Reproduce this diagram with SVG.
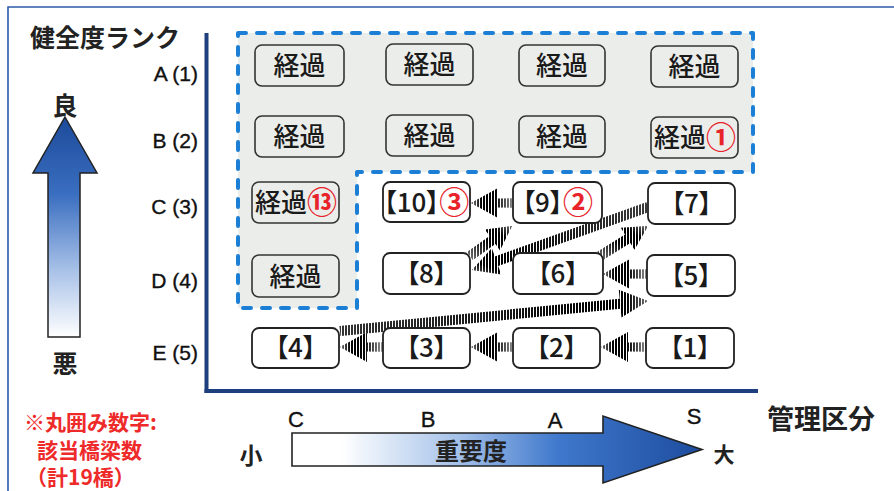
<svg xmlns="http://www.w3.org/2000/svg" width="894" height="491" viewBox="0 0 894 491">
<defs>
<style>
.jp{font-family:"Noto Sans CJK JP","Noto Sans",sans-serif;}
.lat{font-family:"Liberation Sans",Arial,sans-serif;fill:#111;stroke:#111;stroke-width:0.35;}
.box{fill:#ffffff;stroke:#222;stroke-width:1.8;}
.gbox{fill:#ebedea;stroke:#333;stroke-width:1.6;}
.bt{font-family:"Noto Sans CJK JP","Noto Sans",sans-serif;font-size:26px;font-weight:500;fill:#1a1a1a;text-anchor:middle;font-feature-settings:"palt" 1;}
.red{fill:#e8232a;font-weight:bold;font-size:30px;}
.hatch{fill:url(#stripes);}
</style>
<pattern id="stripes" patternUnits="userSpaceOnUse" x="0" y="0" width="3" height="6">
<rect x="0" y="0" width="2" height="6" fill="#000"/>
</pattern>
<linearGradient id="fadeL" x1="1" y1="0" x2="0" y2="0">
<stop offset="0" stop-color="#fff" stop-opacity="0.6"/>
<stop offset="0.45" stop-color="#fff" stop-opacity="0"/>
<stop offset="0.75" stop-color="#fff" stop-opacity="0"/>
<stop offset="1" stop-color="#fff" stop-opacity="0.5"/>
</linearGradient>
<linearGradient id="fadeR" x1="0" y1="0" x2="1" y2="0">
<stop offset="0" stop-color="#fff" stop-opacity="0.2"/>
<stop offset="0.88" stop-color="#fff" stop-opacity="0"/>
<stop offset="0.93" stop-color="#fff" stop-opacity="0"/>
<stop offset="1" stop-color="#fff" stop-opacity="0.45"/>
</linearGradient>
<linearGradient id="fadeDL" x1="1" y1="0" x2="0" y2="1">
<stop offset="0" stop-color="#fff" stop-opacity="0.25"/>
<stop offset="0.82" stop-color="#fff" stop-opacity="0"/>
<stop offset="0.9" stop-color="#fff" stop-opacity="0"/>
<stop offset="1" stop-color="#fff" stop-opacity="0.45"/>
</linearGradient>
<linearGradient id="fadeUR" x1="0" y1="1" x2="1" y2="0">
<stop offset="0" stop-color="#fff" stop-opacity="0.5"/>
<stop offset="0.5" stop-color="#fff" stop-opacity="0"/>
<stop offset="0.75" stop-color="#fff" stop-opacity="0"/>
<stop offset="1" stop-color="#fff" stop-opacity="0.45"/>
</linearGradient>
<linearGradient id="upGrad" x1="0" y1="117" x2="0" y2="337" gradientUnits="userSpaceOnUse">
<stop offset="0" stop-color="#1d4a9a"/>
<stop offset="0.35" stop-color="#3a6ec0"/>
<stop offset="0.7" stop-color="#a9c2e8"/>
<stop offset="1" stop-color="#ffffff"/>
</linearGradient>
<linearGradient id="rightGrad" x1="292" y1="0" x2="702" y2="0" gradientUnits="userSpaceOnUse">
<stop offset="0" stop-color="#ffffff"/>
<stop offset="0.12" stop-color="#ffffff"/>
<stop offset="0.4" stop-color="#a7c3ea"/>
<stop offset="0.65" stop-color="#3f78cc"/>
<stop offset="1" stop-color="#1d4c9e"/>
</linearGradient>
</defs>

<rect x="0" y="0" width="894" height="491" fill="#ffffff"/>

<!-- frame -->
<path d="M8,491 V7 H894" fill="none" stroke="#2d5aa8" stroke-width="1.6"/>

<!-- axes -->
<g id="axes">
<line x1="206.5" y1="33" x2="206.5" y2="393" stroke="#1e3f7e" stroke-width="4"/>
<line x1="204.5" y1="391" x2="758" y2="391" stroke="#1e3f7e" stroke-width="4"/>
</g>

<!-- dashed region -->
<g id="region">
<path d="M238,33 H753 V172 H357 V308 H238 Z" fill="#ebedea" stroke="#1c7fd6" stroke-width="4" stroke-dasharray="8 11" stroke-linecap="round" stroke-linejoin="round"/>
</g>

<!-- title / axis labels -->
<g id="labels">
<text x="30" y="47" class="jp" font-size="25" font-weight="bold" fill="#222">健全度ランク</text>
<text x="198" y="81" class="lat" font-size="21" text-anchor="end">A (1)</text>
<text x="198" y="148" class="lat" font-size="21" text-anchor="end">B (2)</text>
<text x="198" y="214" class="lat" font-size="21" text-anchor="end">C (3)</text>
<text x="198" y="288" class="lat" font-size="21" text-anchor="end">D (4)</text>
<text x="198" y="360" class="lat" font-size="21" text-anchor="end">E (5)</text>
</g>

<!-- left health arrow -->
<g id="health-arrow">
<path d="M65,117 L97,173 H80 V337 H48 V173 H33 Z" fill="url(#upGrad)" stroke="#222" stroke-width="1.5" stroke-linejoin="miter"/>
<text x="65" y="115" class="jp" font-size="25" font-weight="bold" fill="#222" text-anchor="middle">良</text>
<text x="65" y="373" class="jp" font-size="25" font-weight="bold" fill="#222" text-anchor="middle">悪</text>
</g>

<!-- note -->
<g id="note" class="jp" font-weight="bold" fill="#ee2a2a">
<text x="24" y="430" font-size="21">※丸囲み数字:</text>
<text x="37" y="458" font-size="21">該当橋梁数</text>
<text x="26" y="485" font-size="21">（計19橋）</text>
</g>

<!-- importance arrow -->
<g id="importance-arrow">
<path d="M292,433 H603 V416 L702,449.5 L603,483 V466 H292 Z" fill="url(#rightGrad)" stroke="#222" stroke-width="1.6"/>
<text x="471" y="460" class="jp" font-size="24" font-weight="bold" fill="#222" text-anchor="middle">重要度</text>
<text x="296" y="427" class="lat" font-size="22" text-anchor="middle">C</text>
<text x="428" y="427" class="lat" font-size="22" text-anchor="middle">B</text>
<text x="555" y="428" class="lat" font-size="22" text-anchor="middle">A</text>
<text x="694" y="424" class="lat" font-size="22" text-anchor="middle">S</text>
<text x="251" y="464" class="jp" font-size="23" font-weight="bold" fill="#222" text-anchor="middle">小</text>
<text x="724" y="462" class="jp" font-size="21" font-weight="bold" fill="#222" text-anchor="middle">大</text>
<text x="767" y="429" class="jp" font-size="27" font-weight="bold" fill="#222">管理区分</text>
</g>

<!-- connectors -->
<g id="connectors">
<g class="hatch">
<path d="M514,198.5 H498 V188 L471,203 L498,218 V207.5 H514 Z"/>
<path d="M383,342.5 H367 V332 L340,347 L367,362 V351.5 H383 Z"/>
<path d="M514,342.5 H498 V332 L471,347 L498,362 V351.5 H514 Z"/>
<path d="M648,342.5 H628 V332 L601,347 L628,362 V351.5 H648 Z"/>
<path d="M648,269.5 H630 V259 L603,274 L630,289 V278.5 H648 Z"/>
<polygon points="602.6,260.2 630.3,243.0 634.5,249.7 648,226 620.8,227.7 625.0,234.5 597.4,251.8"/>
<polygon points="472.9,260.1 495.4,244.0 500.0,250.5 512,226 484.9,229.4 489.6,235.9 467.1,251.9"/>
<polygon points="646.3,202.3 494.8,256.5 491.8,248.1 472,270 501.2,274.4 498.2,266.0 649.7,211.7"/>
<polygon points="340.5,336.0 620.6,308.7 621.5,317.6 648,301 618.8,289.8 619.7,298.7 339.5,326.0"/>
</g>
<path d="M514,198.5 H498 V188 L471,203 L498,218 V207.5 H514 Z" fill="url(#fadeL)"/>
<path d="M383,342.5 H367 V332 L340,347 L367,362 V351.5 H383 Z" fill="url(#fadeL)"/>
<path d="M514,342.5 H498 V332 L471,347 L498,362 V351.5 H514 Z" fill="url(#fadeL)"/>
<path d="M648,342.5 H628 V332 L601,347 L628,362 V351.5 H648 Z" fill="url(#fadeL)"/>
<path d="M648,269.5 H630 V259 L603,274 L630,289 V278.5 H648 Z" fill="url(#fadeL)"/>
<polygon points="602.6,260.2 630.3,243.0 634.5,249.7 648,226 620.8,227.7 625.0,234.5 597.4,251.8" fill="url(#fadeUR)"/>
<polygon points="472.9,260.1 495.4,244.0 500.0,250.5 512,226 484.9,229.4 489.6,235.9 467.1,251.9" fill="url(#fadeUR)"/>
<polygon points="646.3,202.3 494.8,256.5 491.8,248.1 472,270 501.2,274.4 498.2,266.0 649.7,211.7" fill="url(#fadeDL)"/>
<polygon points="340.5,336.0 620.6,308.7 621.5,317.6 648,301 618.8,289.8 619.7,298.7 339.5,326.0" fill="url(#fadeR)"/>
</g>

<!-- nodes: row A -->
<g id="a1"><rect class="gbox" x="255" y="45" width="89" height="41" rx="7"/><text class="bt" x="299.5" y="75">経過</text></g>
<g id="a2"><rect class="gbox" x="386" y="44" width="87" height="41" rx="7"/><text class="bt" x="429.5" y="74">経過</text></g>
<g id="a3"><rect class="gbox" x="519" y="45" width="86" height="41" rx="7"/><text class="bt" x="562" y="75">経過</text></g>
<g id="a4"><rect class="gbox" x="651" y="46" width="87" height="41" rx="7"/><text class="bt" x="694.5" y="76">経過</text></g>
<!-- row B -->
<g id="b1"><rect class="gbox" x="255" y="116" width="89" height="41" rx="7"/><text class="bt" x="299.5" y="146">経過</text></g>
<g id="b2"><rect class="gbox" x="386" y="115" width="87" height="41" rx="7"/><text class="bt" x="429.5" y="145">経過</text></g>
<g id="b3"><rect class="gbox" x="519" y="116" width="86" height="41" rx="7"/><text class="bt" x="562" y="146">経過</text></g>
<g id="b4"><rect class="gbox" x="651" y="117" width="87" height="41" rx="7"/><text class="bt" x="695" y="147">経過<tspan class="red" dy="1">①</tspan></text></g>
<!-- row C -->
<g id="c1"><rect class="gbox" x="252" y="182" width="87" height="41" rx="7"/><text class="bt" x="296" y="212">経過<tspan class="red" dy="1">⑬</tspan></text></g>
<g id="n10"><rect class="box" x="383" y="182" width="87" height="40" rx="7"/><text class="bt" x="426.5" y="212">【10】<tspan class="red" dy="1">③</tspan></text></g>
<g id="n9"><rect class="box" x="513" y="182" width="89" height="41" rx="7"/><text class="bt" x="557.5" y="212">【9】<tspan class="red" dy="1">②</tspan></text></g>
<g id="n7"><rect class="box" x="648" y="183" width="87" height="41" rx="7"/><text class="bt" x="691.5" y="213">【7】</text></g>
<!-- row D -->
<g id="d1"><rect class="gbox" x="252" y="255" width="87" height="42" rx="7"/><text class="bt" x="295.5" y="286">経過</text></g>
<g id="n8"><rect class="box" x="383" y="253" width="87" height="41" rx="7"/><text class="bt" x="426.5" y="283">【8】</text></g>
<g id="n6"><rect class="box" x="513" y="253" width="90" height="41" rx="7"/><text class="bt" x="558" y="283">【6】</text></g>
<g id="n5"><rect class="box" x="647" y="255" width="88" height="41" rx="7"/><text class="bt" x="691" y="285">【5】</text></g>
<!-- row E -->
<g id="n4"><rect class="box" x="252" y="328" width="87" height="40" rx="7"/><text class="bt" x="295.5" y="357">【4】</text></g>
<g id="n3"><rect class="box" x="383" y="328" width="87" height="40" rx="7"/><text class="bt" x="426.5" y="357">【3】</text></g>
<g id="n2"><rect class="box" x="513" y="328" width="87" height="40" rx="7"/><text class="bt" x="556.5" y="357">【2】</text></g>
<g id="n1"><rect class="box" x="646" y="328" width="88" height="40" rx="7"/><text class="bt" x="690" y="357">【1】</text></g>
</svg>
